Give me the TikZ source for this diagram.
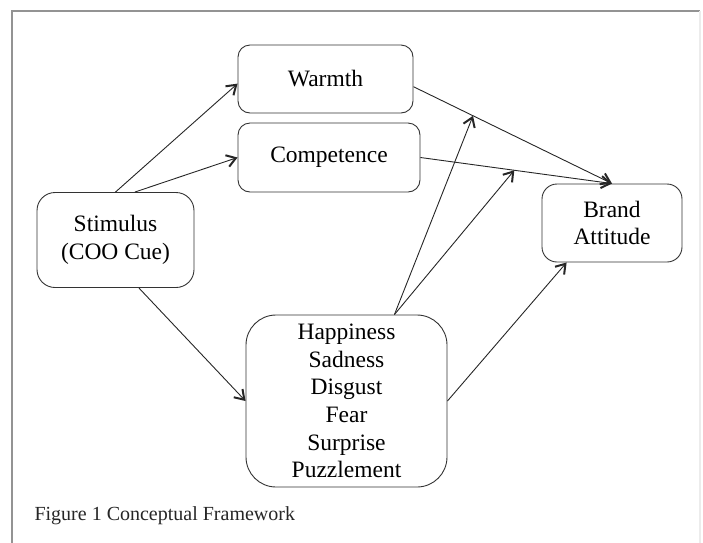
\documentclass[tikz,border=0pt]{standalone}
\usepackage{fontspec}
\setmainfont{Liberation Serif}
\usetikzlibrary{arrows.meta}
\usetikzlibrary{calc}
\tikzset{
	roundBox/.style={draw=black!80, line width=0.9pt, rounded corners=#1, align=center, inner sep=0pt, font=\fontsize{23.5}{27.7}\selectfont},
	roundBox/.default=12pt,
	linkArrow/.style={-{Straight Barb[length=9pt,width=12pt,line width=2pt]}, line width=0.9pt, black!85}
}

\begin{document}
\begin{tikzpicture}[x=1pt, y=-1pt]
		\useasboundingbox (0,0) rectangle (703,542);

		% frame round the figure
		\draw[gray!85, line width=1.6pt] (12,560) -- (12,11) -- (700,11);
		\draw[gray!15, line width=1.2pt] (700,11) -- (700,560);

		\node[roundBox, minimum width=175pt, minimum height=68pt] (N_Warmth) at (325.5,79) {Warmth};
		\node[roundBox, minimum width=182pt, minimum height=69pt] (N_Comp) at (329,157.5) {Competence};
		\node[roundBox=18pt, minimum width=157pt, minimum height=95pt] (N_Stim) at (115.5,240) {Stimulus\\(COO Cue)};
		\node[roundBox=15pt, minimum width=140pt, minimum height=78pt] (N_Brand) at (612,223) {Brand\\Attitude};
		\node[roundBox=30pt, minimum width=201pt, minimum height=172pt] (N_Emo) at (346.5,401) {Happiness\\Sadness\\Disgust\\Fear\\Surprise\\Puzzlement};

		\node[anchor=west, text=black!85, font=\fontsize{20}{24}\selectfont] (N_Caption) at (31,516) {Figure 1 Conceptual Framework};

		% points where the emotion arrows stop
		\coordinate (C_WB) at ($(N_Warmth.-5)!0.30!(N_Brand.north)$);
		\coordinate (C_CB) at ($(N_Comp.east)!0.49!(N_Brand.north)$);

		\draw[linkArrow] (N_Stim.north) -- (N_Warmth.183);
		\draw[linkArrow] (N_Stim.68) -- (N_Comp.west);
		\draw[linkArrow] (N_Stim.-64) -- (N_Emo.west);
		\draw[linkArrow] (N_Warmth.-5) -- (N_Brand.north);
		\draw[linkArrow] (N_Comp.east) -- (N_Brand.north);
		\draw[linkArrow] (N_Emo.61) -- (C_WB);
		\draw[linkArrow] (N_Emo.61) -- (C_CB);
		\draw[linkArrow] (N_Emo.east) -- (N_Brand.-139);

	\end{tikzpicture}
\end{document}
